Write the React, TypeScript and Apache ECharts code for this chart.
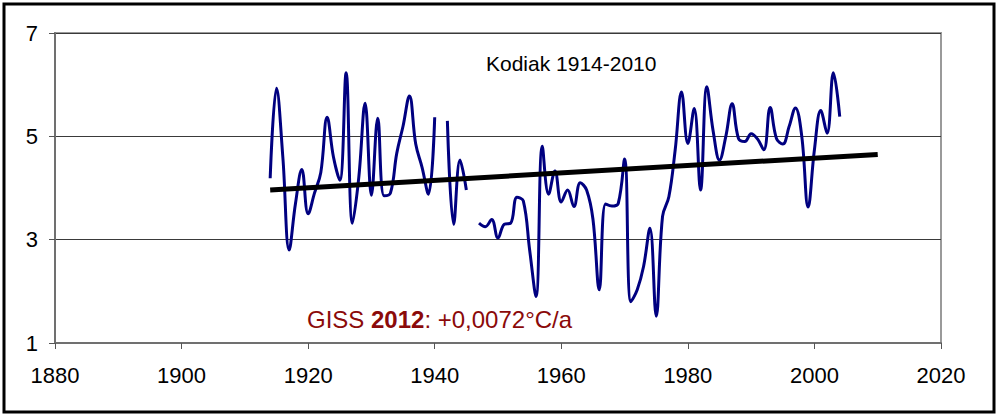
import React, { useEffect, useRef } from "react";
import * as echarts from "echarts";

const years: number[] = [
  1914, 1915, 1916, 1917, 1918, 1919, 1920, 1921, 1922, 1923, 1924, 1925, 1926, 1927, 1928, 1929,
  1930, 1931, 1932, 1933, 1934, 1935, 1936, 1937, 1938, 1939, 1940, 1941, 1942, 1943, 1944, 1945,
  1946, 1947, 1948, 1949, 1950, 1951, 1952, 1953, 1954, 1955, 1956, 1957, 1958, 1959, 1960, 1961,
  1962, 1963, 1964, 1965, 1966, 1967, 1968, 1969, 1970, 1971, 1972, 1973, 1974, 1975, 1976, 1977,
  1978, 1979, 1980, 1981, 1982, 1983, 1984, 1985, 1986, 1987, 1988, 1989, 1990, 1991, 1992, 1993,
  1994, 1995, 1996, 1997, 1998, 1999, 2000, 2001, 2002, 2003, 2004,
];

const temps: (number | null)[] = [
  4.19, 5.93, 4.6, 2.8, 3.7, 4.36, 3.5, 3.9, 4.3, 5.37, 4.6, 4.15, 6.23, 3.32, 4.2, 5.64,
  3.86, 5.35, 3.85, 3.9, 4.67, 5.2, 5.78, 4.85, 4.4, 3.88, 5.37, null, 5.3, 3.3, 4.54, 3.96,
  null, 3.32, 3.25, 3.39, 3.03, 3.3, 3.32, 3.82, 3.75, 2.8, 1.9, 4.81, 3.88, 4.33, 3.73, 3.96,
  3.64, 4.1, 3.96, 3.4, 2.03, 3.69, 3.65, 3.7, 4.56, 1.8, 2.03, 2.48, 3.22, 1.52, 3.45, 3.83,
  4.74, 5.86, 4.86, 5.54, 3.96, 5.96, 5.1, 4.54, 5.0, 5.63, 4.96, 4.9, 5.05, 4.95, 4.74, 5.56,
  4.96, 4.85, 5.19, 5.55, 5.0, 3.63, 4.74, 5.5, 5.06, 6.23, 5.38,
];

const trendYears: number[] = [1914, 2010];
const trendValues: number[] = [3.96, 4.65];

const xTicks = { min: 1880, max: 2020, interval: 20 };
const yTicks = { min: 1, max: 7, interval: 2 };

const titleText = "Kodiak 1914-2010";
const noteParts = ["GISS ", "2012", ": +0,0072°C/a"];

const FONT = "'Liberation Sans', Arial, sans-serif";

export default function App() {
  const ref = useRef<HTMLDivElement>(null);

  useEffect(() => {
    document.body.style.margin = "0";
    if (!ref.current) return;
    const chart = echarts.init(ref.current, undefined, { renderer: "svg" });
    const lineData = years.map((y, i) => [y, temps[i]]);
    const trendData = trendYears.map((y, i) => [y, trendValues[i]]);
    chart.setOption({
      animation: false,
      backgroundColor: "#ffffff",
      grid: {
        left: 55,
        top: 33,
        right: 63,
        bottom: 71,
        show: true,
        borderColor: "#9a9a9a",
        borderWidth: 2,
        backgroundColor: "transparent",
      },
      xAxis: {
        type: "value",
        min: xTicks.min,
        max: xTicks.max,
        interval: xTicks.interval,
        axisLine: { show: true, onZero: false, lineStyle: { color: "#707070", width: 2 } },
        axisTick: { show: true, inside: false, length: 6, lineStyle: { color: "#555", width: 1 } },
        axisLabel: {
          color: "#000",
          fontSize: 22,
          fontFamily: FONT,
          margin: 21,
          formatter: (v: number) => String(v),
        },
        splitLine: { show: false },
      },
      yAxis: {
        type: "value",
        min: yTicks.min,
        max: yTicks.max,
        interval: yTicks.interval,
        axisLine: { show: true, onZero: false, lineStyle: { color: "#707070", width: 2 } },
        axisTick: { show: true, inside: false, length: 6, lineStyle: { color: "#555", width: 1 } },
        axisLabel: { color: "#000", fontSize: 22, fontFamily: FONT, margin: 17 },
        splitLine: { show: true, lineStyle: { color: "#3a3a3a", width: 1 } },
      },
      series: [
        {
          type: "line",
          data: lineData,
          smooth: 0.4,
          connectNulls: false,
          showSymbol: false,
          symbol: "none",
          lineStyle: { color: "#000080", width: 3 },
          z: 3,
        },
        {
          type: "line",
          data: trendData,
          showSymbol: false,
          symbol: "none",
          lineStyle: { color: "#000000", width: 5 },
          z: 4,
        },
      ],
      graphic: [
        {
          type: "rect",
          shape: { x: 4, y: 4, width: 990, height: 408 },
          style: { fill: "none", stroke: "#000", lineWidth: 3 },
          silent: true,
          z: 100,
        },
        {
          type: "text",
          x: 486,
          y: 63,
          style: {
            text: titleText,
            fill: "#000",
            font: `21px ${FONT}`,
            verticalAlign: "middle",
          },
          z: 100,
        },
        {
          type: "text",
          x: 307,
          y: 319,
          style: {
            text: `{a|${noteParts[0]}}{b|${noteParts[1]}}{a|${noteParts[2]}}`,
            verticalAlign: "middle",
            rich: {
              a: { fill: "#8b0a0a", fontSize: 24, fontFamily: FONT },
              b: { fill: "#8b0a0a", fontSize: 24, fontFamily: FONT, fontWeight: "bold" },
            },
          },
          z: 100,
        },
      ],
    });
    return () => chart.dispose();
  }, []);

  return (
    <div
      ref={ref}
      style={{ position: "fixed", left: 0, top: 0, width: 1004, height: 414 }}
    />
  );
}
